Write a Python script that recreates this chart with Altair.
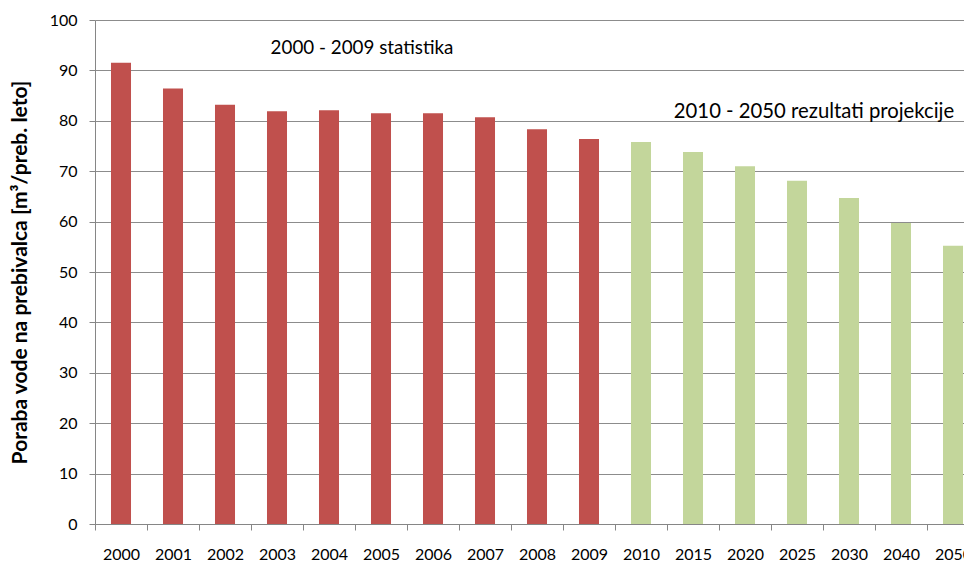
import altair as alt
import pandas as pd

# Water consumption per inhabitant: statistics 2000-2009, projections 2010-2050
years = ["2000", "2001", "2002", "2003", "2004", "2005", "2006", "2007", "2008",
         "2009", "2010", "2015", "2020", "2025", "2030", "2040", "2050"]
values = [91.5, 86.4, 83.2, 81.9, 82.1, 81.5, 81.5, 80.7, 78.3,
          76.4, 75.8, 73.8, 71.0, 68.1, 64.7, 59.7, 55.2]
periods = ["statistika"] * 10 + ["projekcija"] * 7
period_names = ["statistika", "projekcija"]
period_colors = ["#C0504D", "#C3D69B"]

# Period annotations, placed in data coordinates
note_texts = ["2000 - 2009 statistika", "2010 - 2050 rezultati projekcije"]
note_years = ["2004", "2025"]
note_values = [94.4, 81.8]

FONT = "Lato"
AXIS_GREY = "#868686"

df = pd.DataFrame({"leto": years, "poraba": values, "obdobje": periods})
notes = pd.DataFrame({"besedilo": note_texts, "leto": note_years, "poraba": note_values})

# The last category runs past the right edge of the view, as in the original figure
x_scale = alt.Scale(domain=years, range=[0, 884], paddingInner=0, paddingOuter=0)
y_scale = alt.Scale(domain=[0, 100], nice=False)

bars = alt.Chart(df).mark_bar(width=alt.RelativeBandSize(0.385)).encode(
    x=alt.X("leto:N", sort=years, scale=x_scale, title=None,
            axis=alt.Axis(labelAngle=0, tickBand="extent", tickSize=6,
                          tickColor=AXIS_GREY, domainColor=AXIS_GREY,
                          labelFont=FONT, labelFontSize=16, labelColor="#000000",
                          labelPadding=16, labelOverlap=False)),
    y=alt.Y("poraba:Q", scale=y_scale,
            title="Poraba vode na prebivalca [m³/preb. leto]",
            axis=alt.Axis(values=list(range(0, 101, 10)), tickSize=6,
                          tickColor=AXIS_GREY, domainColor=AXIS_GREY,
                          grid=True, gridColor="#8c8c8c", gridWidth=1.2,
                          labelFont=FONT, labelFontSize=16, labelColor="#000000",
                          labelPadding=12, titleFont=FONT, titleFontSize=21,
                          titleFontWeight="bold", titleColor="#000000",
                          titlePadding=19)),
    color=alt.Color("obdobje:N", scale=alt.Scale(domain=period_names, range=period_colors),
                    legend=None),
)

def note_layer(i, size, dx):
    return alt.Chart(notes.iloc[[i]]).mark_text(
        font=FONT, fontSize=size, color="#000000", align="center",
        baseline="middle", dx=dx
    ).encode(
        x=alt.X("leto:N", sort=years, scale=x_scale),
        y=alt.Y("poraba:Q", scale=y_scale),
        text="besedilo:N",
    )

chart = alt.layer(bars, note_layer(0, 18.8, 33), note_layer(1, 20.3, 17)).properties(
    width=869, height=504,
    autosize=alt.AutoSizeParams(type="none"),
    padding={"left": 95, "top": 20, "right": 0, "bottom": 39},
    background="#ffffff",
).configure_view(strokeWidth=0)

chart.save("out.html", embed_options={"renderer": "svg", "actions": False})
